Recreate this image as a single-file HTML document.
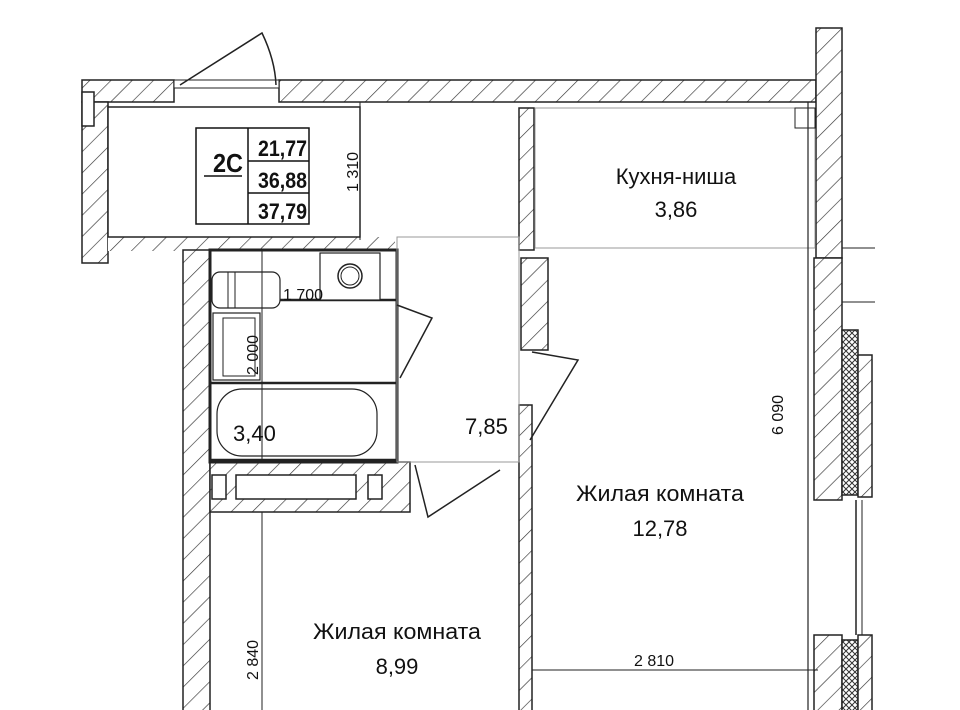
<!DOCTYPE html>
<html><head><meta charset="utf-8"><style>
html,body{margin:0;padding:0;background:#fff;width:960px;height:710px;overflow:hidden}
text{font-family:"Liberation Sans",sans-serif;fill:#111}
</style></head><body>
<svg width="960" height="710" viewBox="0 0 960 710" xmlns="http://www.w3.org/2000/svg">
<defs>
<pattern id="h" patternUnits="userSpaceOnUse" width="15" height="15" patternTransform="rotate(45)">
<rect width="15" height="15" fill="#fff"/><line x1="0" y1="0" x2="0" y2="15" stroke="#333" stroke-width="1.3"/>
</pattern>
<pattern id="z" patternUnits="userSpaceOnUse" width="6" height="6">
<rect width="6" height="6" fill="#fff"/><path d="M0 3 L3 0 L6 3 L3 6Z" fill="none" stroke="#333" stroke-width="1"/>
</pattern>
</defs>
<g stroke="#222" stroke-width="1.5">
<rect x="82" y="80" width="92" height="22" fill="url(#h)"/>
<rect x="279" y="80" width="537" height="22" fill="url(#h)"/>
<rect x="174" y="80" width="105" height="8" fill="#fff" stroke-width="1"/>
<rect x="82" y="102" width="26" height="161" fill="url(#h)"/>
<rect x="82" y="92" width="12" height="34" fill="#fff"/>
<rect x="108" y="237" width="287" height="14" fill="url(#h)" stroke="none"/>
<rect x="108" y="107" width="252" height="130" fill="#fff"/>
<rect x="816" y="28" width="26" height="230" fill="url(#h)"/>
<rect x="814" y="258" width="28" height="242" fill="url(#h)"/>
<rect x="814" y="635" width="28" height="80" fill="url(#h)"/>
<rect x="842" y="330" width="16" height="165" fill="url(#z)"/>
<rect x="858" y="355" width="14" height="142" fill="url(#h)"/>
<rect x="842" y="640" width="16" height="75" fill="url(#z)"/>
<rect x="858" y="635" width="14" height="80" fill="url(#h)"/>
<line x1="856" y1="500" x2="856" y2="635"/>
<line x1="862" y1="500" x2="862" y2="635" stroke-width="1"/>
<line x1="842" y1="248" x2="875" y2="248" stroke-width="1"/>
<line x1="842" y1="302" x2="875" y2="302" stroke-width="1"/>
<rect x="519" y="108" width="15" height="142" fill="url(#h)"/>
<rect x="521" y="258" width="27" height="92" fill="url(#h)"/>
<rect x="519" y="405" width="13" height="310" fill="url(#h)"/>
<rect x="183" y="250" width="27" height="465" fill="url(#h)"/>
<rect x="380" y="250" width="17" height="212" fill="url(#h)"/>
<rect x="210" y="462" width="200" height="50" fill="url(#h)"/>
<rect x="236" y="475" width="120" height="24" fill="#fff"/>
<rect x="212" y="475" width="14" height="24" fill="#fff"/>
<rect x="368" y="475" width="14" height="24" fill="#fff"/>
<rect x="210" y="250" width="187" height="212" fill="#fff" stroke-width="3"/>
<line x1="210" y1="300" x2="397" y2="300" stroke-width="2.5"/>
<line x1="210" y1="383" x2="397" y2="383" stroke-width="2.5"/>
<line x1="210" y1="460" x2="397" y2="460" stroke-width="2.5"/>
<rect x="212" y="272" width="68" height="36" rx="8" fill="#fff" stroke-width="1.2"/>
<line x1="228" y1="272" x2="228" y2="308" stroke-width="1"/>
<line x1="235" y1="272" x2="235" y2="308" stroke-width="1"/>
<rect x="320" y="253" width="60" height="47" fill="#fff" stroke-width="1.2"/>
<circle cx="350" cy="276" r="12" fill="none" stroke-width="1.5"/>
<circle cx="350" cy="276" r="9" fill="none" stroke-width="1"/>
<rect x="213" y="313" width="47" height="67" fill="#fff" stroke-width="1.2"/>
<rect x="223" y="318" width="32" height="58" fill="#fff" stroke-width="1"/>
<rect x="217" y="389" width="160" height="67" rx="25" fill="#fff" stroke-width="1.2"/>
<rect x="397" y="237" width="122" height="225" fill="none" stroke="#999" stroke-width="1"/>
<rect x="535" y="108" width="280" height="140" fill="none" stroke="#999" stroke-width="1"/>
<path d="M397 305 L432 318 L400 378" fill="none" stroke-width="1.5"/>
<path d="M532 352 L578 360 L530 440" fill="none" stroke-width="1.5"/>
<path d="M415 465 L428 517 L500 470" fill="none" stroke-width="1.5"/>
<path d="M180 85 L262 33 Q275 60 276 85" fill="none" stroke-width="1.5"/>
<line x1="360" y1="102" x2="360" y2="240" stroke-width="1"/>
<line x1="262" y1="250" x2="262" y2="462" stroke-width="1"/>
<line x1="262" y1="512" x2="262" y2="710" stroke-width="1"/>
<line x1="808" y1="102" x2="808" y2="710" stroke-width="1.2"/>
<line x1="532" y1="670" x2="818" y2="670" stroke-width="1"/>
<rect x="795" y="108" width="20" height="20" fill="none" stroke-width="1"/>
</g>
<g stroke="#111" stroke-width="1.5" fill="none">
<rect x="196" y="128" width="113" height="96"/>
<line x1="248" y1="128" x2="248" y2="224"/>
<line x1="248" y1="161" x2="309" y2="161"/>
<line x1="248" y1="193" x2="309" y2="193"/>
<line x1="204" y1="176" x2="242" y2="176"/>
</g>
<text x="213" y="172" font-size="26" font-weight="bold" textLength="30" lengthAdjust="spacingAndGlyphs">2С</text>
<text x="258" y="156" font-size="22" font-weight="bold" textLength="49" lengthAdjust="spacingAndGlyphs">21,77</text>
<text x="258" y="188" font-size="22" font-weight="bold" textLength="49" lengthAdjust="spacingAndGlyphs">36,88</text>
<text x="258" y="219" font-size="22" font-weight="bold" textLength="49" lengthAdjust="spacingAndGlyphs">37,79</text>
<text x="676" y="184" font-size="22" text-anchor="middle">Кухня-ниша</text>
<text x="676" y="217" font-size="22" text-anchor="middle">3,86</text>
<text x="660" y="501" font-size="22" text-anchor="middle" textLength="168" lengthAdjust="spacingAndGlyphs">Жилая комната</text>
<text x="660" y="536" font-size="22" text-anchor="middle">12,78</text>
<text x="397" y="639" font-size="22" text-anchor="middle" textLength="168" lengthAdjust="spacingAndGlyphs">Жилая комната</text>
<text x="397" y="674" font-size="22" text-anchor="middle">8,99</text>
<text x="465" y="434" font-size="22">7,85</text>
<text x="233" y="441" font-size="22">3,40</text>
<text x="283" y="300" font-size="16">1 700</text>
<text x="654" y="666" font-size="16" text-anchor="middle">2 810</text>
<text font-size="16" text-anchor="middle" transform="translate(358 172) rotate(-90)">1 310</text>
<text font-size="16" text-anchor="middle" transform="translate(783 415) rotate(-90)">6 090</text>
<text font-size="16" text-anchor="middle" transform="translate(258 355) rotate(-90)">2 000</text>
<text font-size="16" text-anchor="middle" transform="translate(258 660) rotate(-90)">2 840</text>
</svg>
</body></html>
